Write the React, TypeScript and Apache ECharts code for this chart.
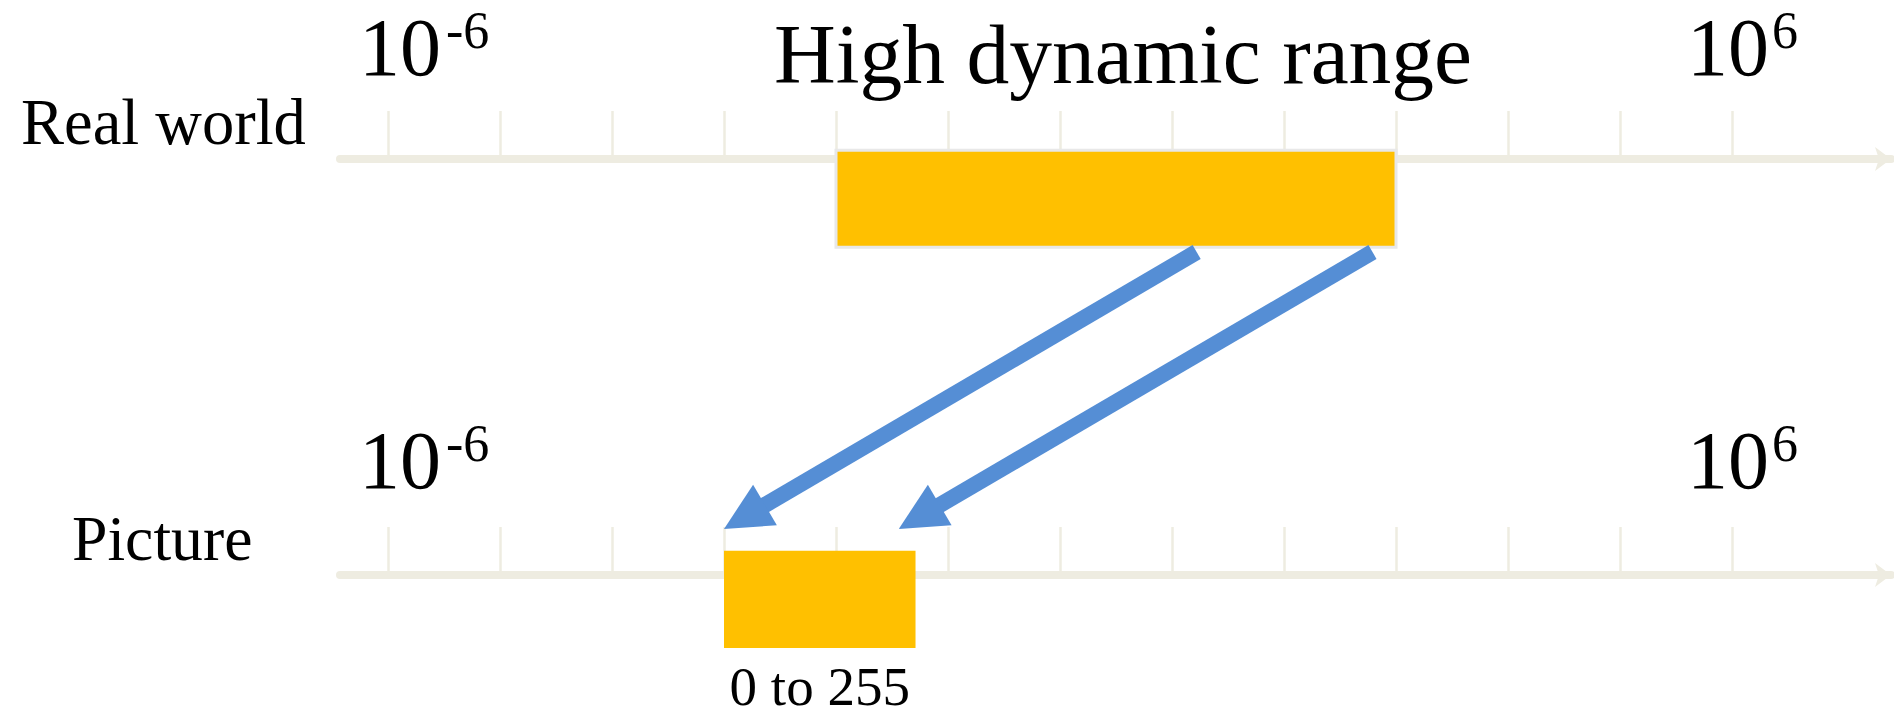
import React, { useEffect, useRef } from "react";
import * as echarts from "echarts";

// ---- data (x in powers of ten: exponent) ----
const TICK_EXPONENTS = [-6, -5, -4, -3, -2, -1, 0, 1, 2, 3, 4, 5, 6];
const ROWS = ["Real world", "Picture"];
const REAL_WORLD_RANGE = [-2, 3];
const PICTURE_RANGE = [-3, -1.29];
const ARROW_FROM = [1.22, 2.79];
const ARROW_TO = [-3.0, -1.44];
const TITLE = "High dynamic range";
const PICTURE_RANGE_LABEL = "0 to 255";
const MIN_LABEL = ["10", "-6"];
const MAX_LABEL = ["10", "6"];

// ---- layout ----
const W = 1894;
const H = 717;
const ROW_Y = [159, 575];
const GRID_LEFT = 340;
const GRID_RIGHT = 3;
const PX_PER_UNIT = 112;
const FIRST_TICK_PX = 388;
const X_MIN = (GRID_LEFT - FIRST_TICK_PX) / PX_PER_UNIT + TICK_EXPONENTS[0];
const X_MAX = (W - GRID_RIGHT - FIRST_TICK_PX) / PX_PER_UNIT + TICK_EXPONENTS[0];
const ROW_GAP = ROW_Y[1] - ROW_Y[0];
const Y_MIN = -ROW_Y[0] / ROW_GAP;
const Y_MAX = (H - ROW_Y[0]) / ROW_GAP;

const AXIS_COLOR = "#EEECE1";
const BAR_COLOR = "#FFC000";
const ARROW_COLOR = "#558ED5";
const FONT = '"Liberation Serif", "Times New Roman", serif';

const BAR_TOP_OFFSET = [-8.7, -24.3];
const BAR_HEIGHT = [97, 97.3];
const ARROW_START_OFFSET = 93;
const ARROW_TIP_OFFSET = -46;

function makeAxis(gridIndex: number) {
  return {
    gridIndex,
    type: "value",
    min: X_MIN,
    max: X_MAX,
    position: "bottom",
    axisLine: {
      show: true,
      onZero: false,
      symbol: ["none", "arrow"],
      symbolSize: [18, 16],
      lineStyle: { color: AXIS_COLOR, width: 8 },
    },
    axisTick: {
      show: true,
      inside: true,
      length: 48,
      customValues: TICK_EXPONENTS,
      lineStyle: { color: AXIS_COLOR, width: 2.5 },
    },
    axisLabel: { show: false },
    splitLine: { show: false },
  };
}

function textEl(text: string, x: number, baseline: number, size: number, align = "left") {
  return {
    type: "text",
    x,
    y: baseline - 0.3375 * size,
    z: 100,
    style: {
      text,
      fill: "#000",
      fontSize: size,
      fontFamily: FONT,
      align,
      verticalAlign: "middle",
    },
  };
}

export default function App() {
  const ref = useRef<HTMLDivElement>(null);
  useEffect(() => {
    if (!ref.current) return;
    const chart = echarts.init(ref.current, null, { renderer: "svg" });
    const ranges = [
      [REAL_WORLD_RANGE[0], REAL_WORLD_RANGE[1], 0],
      [PICTURE_RANGE[0], PICTURE_RANGE[1], 1],
    ];
    const arrows = ARROW_FROM.map((f, i) => [f, ARROW_TO[i]]);

    const option: any = {
      animation: false,
      backgroundColor: "#fff",
      grid: [
        { left: GRID_LEFT, right: GRID_RIGHT, top: 0, height: ROW_Y[0] },
        { left: GRID_LEFT, right: GRID_RIGHT, top: 0, height: ROW_Y[1] },
        { left: GRID_LEFT, right: GRID_RIGHT, top: 0, height: H },
      ],
      xAxis: [
        makeAxis(0),
        makeAxis(1),
        { gridIndex: 2, type: "value", min: X_MIN, max: X_MAX, show: false },
      ],
      yAxis: [
        { gridIndex: 0, type: "value", min: 0, max: 1, show: false },
        { gridIndex: 1, type: "value", min: 0, max: 1, show: false },
        { gridIndex: 2, type: "value", min: Y_MIN, max: Y_MAX, inverse: true, show: false },
      ],
      series: [
        {
          type: "custom",
          name: "ranges",
          xAxisIndex: 2,
          yAxisIndex: 2,
          clip: false,
          data: ranges,
          encode: { x: [0, 1], y: 2 },
          renderItem: (params: any, api: any) => {
            const row = api.value(2);
            const p0 = api.coord([api.value(0), row]);
            const p1 = api.coord([api.value(1), row]);
            const rect = {
              type: "rect",
              shape: {
                x: p0[0],
                y: p0[1] + BAR_TOP_OFFSET[row],
                width: p1[0] - p0[0],
                height: BAR_HEIGHT[row],
              },
              style: row === 0
                ? { fill: BAR_COLOR, stroke: "#E8E8E8", lineWidth: 3 }
                : { fill: BAR_COLOR },
            };
            if (row === 1) {
              return {
                type: "group",
                children: [
                  rect,
                  {
                    type: "text",
                    x: (p0[0] + p1[0]) / 2,
                    y: p0[1] + 130 - 0.3375 * 55,
                    style: {
                      text: PICTURE_RANGE_LABEL,
                      fill: "#000",
                      fontSize: 55,
                      fontFamily: FONT,
                      align: "center",
                      verticalAlign: "middle",
                    },
                  },
                ],
              };
            }
            return rect;
          },
        },
        {
          type: "custom",
          name: "arrows",
          xAxisIndex: 2,
          yAxisIndex: 2,
          clip: false,
          data: arrows,
          encode: { x: [0, 1] },
          renderItem: (params: any, api: any) => {
            const s = api.coord([api.value(0), 0]);
            const t = api.coord([api.value(1), 1]);
            const sx = s[0], sy = s[1] + ARROW_START_OFFSET;
            const tx = t[0], ty = t[1] + ARROW_TIP_OFFSET;
            const dx = tx - sx, dy = ty - sy;
            const len = Math.sqrt(dx * dx + dy * dy);
            const ux = dx / len, uy = dy / len;
            const headLen = 47.5, headHalf = 23.5;
            const bx = tx - ux * headLen, by = ty - uy * headLen;
            const px = -uy, py = ux;
            return {
              type: "group",
              children: [
                {
                  type: "line",
                  shape: { x1: sx, y1: sy, x2: bx + ux * 2, y2: by + uy * 2 },
                  style: { stroke: ARROW_COLOR, lineWidth: 16, lineCap: "butt" },
                },
                {
                  type: "polygon",
                  shape: {
                    points: [
                      [tx, ty],
                      [bx + px * headHalf, by + py * headHalf],
                      [bx - px * headHalf, by - py * headHalf],
                    ],
                  },
                  style: { fill: ARROW_COLOR },
                },
              ],
            };
          },
        },
      ],
      graphic: [
        textEl(TITLE, 774, 83, 85.5),
        textEl(ROWS[0], 21, 144, 64.5),
        textEl(ROWS[1], 72, 560, 63.7),
        textEl(MIN_LABEL[0], 359, 75, 82),
        textEl(MIN_LABEL[1], 446, 48, 52),
        textEl(MAX_LABEL[0], 1687, 75, 82),
        textEl(MAX_LABEL[1], 1772, 48, 52),
        textEl(MIN_LABEL[0], 359, 75 + ROW_GAP - 3, 82),
        textEl(MIN_LABEL[1], 446, 48 + ROW_GAP - 3, 52),
        textEl(MAX_LABEL[0], 1687, 75 + ROW_GAP - 3, 82),
        textEl(MAX_LABEL[1], 1772, 48 + ROW_GAP - 3, 52),
      ],
    };
    chart.setOption(option);
    return () => chart.dispose();
  }, []);
  return (
    <div
      ref={ref}
      style={{ position: "fixed", left: 0, top: 0, width: W, height: H, background: "#fff" }}
    />
  );
}
